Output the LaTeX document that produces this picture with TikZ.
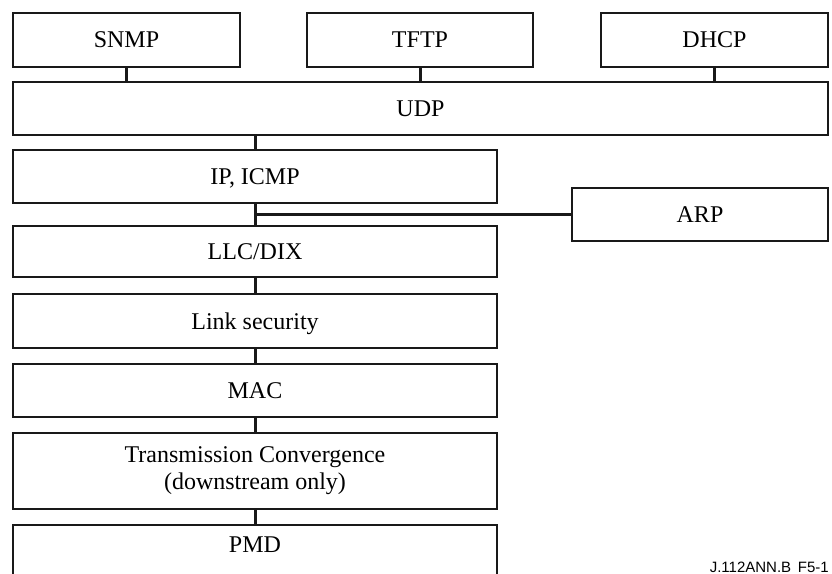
\documentclass[tikz,border=0pt]{standalone}
\usepackage{fontspec}
\setmainfont{Liberation Serif}
\newfontfamily\labelfont{Liberation Sans}
\begin{document}
\begin{tikzpicture}[x=1bp,y=-1bp,
  layer/.style={draw=black!90, line width=2bp, fill=white, inner sep=0pt,
    font=\fontsize{24bp}{27bp}\selectfont, text height=16bp, text depth=0pt,
    minimum height=53bp},
  twoline/.style={draw=black!90, line width=2bp, fill=white, inner sep=0pt,
    font=\fontsize{24bp}{27bp}\selectfont, align=center},
  link/.style={draw=black!90, line width=3bp},
  armlink/.style={draw=black!90, line width=3.5bp}]
\useasboundingbox (0,0) rectangle (832,574);
\clip (0,0) rectangle (832,574);
% top row
\node[layer, minimum width=227bp, minimum height=54bp] (snmp) at (126.5,40) {SNMP};
\node[layer, minimum width=226bp, minimum height=54bp] (tftp) at (420,40) {TFTP};
\node[layer, minimum width=227bp, minimum height=54bp] (dhcp) at (714.5,40) {DHCP};
\node[layer, minimum width=815bp] (udp) at (420.5,108.5) {UDP};
% stack
\node[layer, minimum width=484bp] (ip) at (255,176.5) {IP, ICMP};
\node[layer, minimum width=256bp] (arp) at (700,214.5) {ARP};
\node[layer, minimum width=484bp, minimum height=51bp] (llc) at (255,251.5) {LLC/DIX};
\node[layer, minimum width=484bp, minimum height=54bp] (sec) at (255,321) {Link security};
\node[layer, minimum width=484bp] (mac) at (255,390.5) {MAC};
\node[twoline, minimum width=484bp, minimum height=76bp] (tc) at (255,471) {Transmission Convergence\\(downstream only)};
\node[layer, minimum width=484bp, minimum height=0pt, text height=27.7bp, text depth=40bp, anchor=north] (pmd) at (255,524) {PMD};
% connectors
\draw[link] (snmp.south) -- (snmp.south |- udp.north);
\draw[link] (tftp.south) -- (tftp.south |- udp.north);
\draw[link] (dhcp.south) -- (dhcp.south |- udp.north);
\draw[link] (ip.north |- udp.south) -- (ip.north);
\draw[link] (ip.south) -- (llc.north);
\coordinate (tap) at (ip.south |- arp.west);
\draw[armlink] (tap) -- (arp.west);
\draw[link] (llc.south) -- (sec.north);
\draw[link] (sec.south) -- (mac.north);
\draw[link] (mac.south) -- (tc.north);
\draw[link] (tc.south) -- (pmd.north);
% figure label
\node[anchor=base east, inner sep=0pt, font=\labelfont\fontsize{15bp}{17bp}\selectfont] (figlabel) at (829,572) {J.112ANN.B\hspace{0.45em}F5-1};
\end{tikzpicture}
\end{document}
